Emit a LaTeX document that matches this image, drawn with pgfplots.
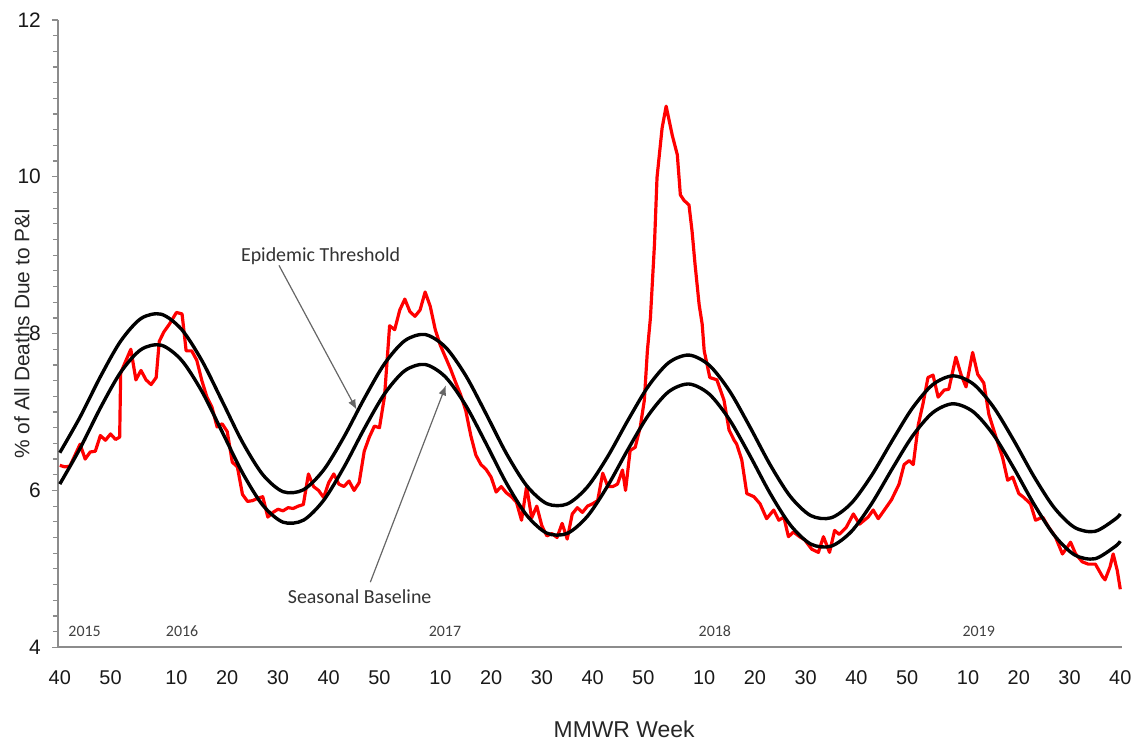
\documentclass[border=0pt]{standalone}
\usepackage{fontspec}
\setmainfont{Liberation Sans}
\newfontfamily\calibri{Carlito}
\usepackage{pgfplots}
\pgfplotsset{compat=1.18}
\usepackage{pgfplotstable}
\usetikzlibrary{arrows.meta}

% weekly P&I percentage, t = weeks since MMWR week 40 of 2015
\pgfplotstableread{
t v
0 6.32
1 6.30
2 6.31
3 6.45
4 6.59
5 6.40
6 6.49
7 6.50
8 6.70
9 6.64
10 6.72
11 6.65
11.8 6.68
12 7.50
13 7.65
14 7.80
15 7.41
16 7.53
17 7.41
18 7.35
19 7.44
19.6 7.90
20.5 8.02
21.6 8.12
23 8.27
24.1 8.25
24.9 7.78
26 7.78
27 7.66
28 7.40
29 7.19
30 7.06
31 6.81
32 6.85
33 6.75
34 6.36
35 6.30
36 5.95
37 5.86
38 5.87
39 5.90
40 5.92
41 5.66
42 5.72
43 5.76
44 5.74
45 5.78
46 5.77
47 5.80
48 5.82
49 6.21
50 6.05
51 6.00
52 5.91
53 6.10
54 6.21
55 6.08
56 6.05
57 6.12
58 6.00
59 6.10
60 6.50
61 6.68
62 6.82
63 6.80
64 7.20
65 8.10
66 8.05
67 8.30
68 8.44
69 8.28
70 8.22
71 8.30
72 8.53
73 8.35
74 8.05
75 7.85
76 7.70
77 7.55
78 7.38
79 7.22
80 7.02
81 6.70
82 6.45
83 6.33
84 6.27
85 6.17
86 5.98
87 6.05
88 5.97
89 5.92
90 5.85
91 5.62
92 6.05
93 5.65
94 5.80
95 5.55
96 5.42
97 5.45
98 5.40
99 5.58
100 5.38
101 5.70
102 5.78
103 5.72
104 5.80
105 5.83
106 5.87
107 6.22
108 6.05
109 6.05
109.9 6.08
110.9 6.26
111.5 6.00
112.4 6.51
113.4 6.55
114.4 6.81
115.2 7.15
115.8 7.78
116.4 8.20
117.2 9.14
117.7 9.99
118.7 10.62
119.5 10.90
120.7 10.53
121.7 10.28
122.3 9.77
123.0 9.70
124.0 9.64
124.6 9.31
125.2 8.88
126.0 8.37
126.6 8.12
127.0 7.78
128.1 7.44
129.5 7.41
130.9 7.15
131.9 6.77
132.9 6.64
133.4 6.59
134.4 6.39
135.4 5.96
136.8 5.92
138.0 5.83
139.3 5.64
140.7 5.75
141.7 5.62
142.7 5.66
143.6 5.41
144.6 5.47
145.8 5.41
146.8 5.37
148.2 5.25
149.5 5.21
150.5 5.41
151.7 5.21
152.7 5.49
153.6 5.44
155.0 5.53
156.4 5.70
157.6 5.57
159.3 5.66
160.3 5.75
161.3 5.64
162.5 5.75
163.9 5.88
165.4 6.08
166.4 6.33
167.4 6.38
168.2 6.33
169.2 6.84
170.1 7.10
171.1 7.44
172.1 7.47
173.1 7.19
174.3 7.28
175.2 7.29
176.6 7.70
177.6 7.48
178.6 7.32
179.9 7.76
180.9 7.48
182.1 7.37
183.1 6.97
184.5 6.68
185.8 6.42
186.8 6.13
187.8 6.17
189.0 5.96
190.0 5.91
191.3 5.83
192.3 5.62
193.7 5.66
194.9 5.53
196.2 5.41
197.6 5.19
198.6 5.28
199.2 5.34
200.2 5.19
201.5 5.09
202.7 5.06
204.1 5.06
205.5 4.90
206.0 4.86
207.0 5.03
207.6 5.19
208.4 4.98
209.0 4.74
}\piData

% seasonal baseline (b) and epidemic threshold (e)
\pgfplotstableread{
t b e
0 6.081 6.481
4 6.537 6.936
8 7.052 7.450
12 7.507 7.904
16 7.796 8.192
20 7.852 8.247
24 7.660 8.054
28 7.263 7.656
32 6.747 7.139
36 6.225 6.616
40 5.812 6.202
44 5.595 5.984
48 5.620 6.008
52 5.874 6.261
56 6.296 6.682
60 6.787 7.172
64 7.232 7.616
68 7.527 7.910
72 7.606 7.988
76 7.447 7.828
80 7.085 7.465
84 6.599 6.978
88 6.095 6.473
92 5.685 6.062
96 5.455 5.831
100 5.452 5.827
104 5.672 6.046
108 6.061 6.434
112 6.526 6.898
116 6.959 7.330
120 7.259 7.629
124 7.357 7.726
128 7.228 7.596
132 6.900 7.267
136 6.445 6.811
140 5.962 6.327
144 5.557 5.921
148 5.316 5.679
152 5.289 5.651
156 5.476 5.837
160 5.832 6.192
164 6.270 6.629
168 6.689 7.047
172 6.990 7.347
176 7.105 7.461
180 7.004 7.359
184 6.710 7.064
188 6.286 6.639
192 5.824 6.176
196 5.427 5.778
200 5.178 5.528
204 5.129 5.478
208 5.286 5.634
209 5.353 5.701
}\curveData

\begin{document}
\begin{tikzpicture}
\begin{axis}[
  scale only axis,
  width=534.5pt, height=315pt,
  xmin=-0.4, xmax=209.4,
  ymin=4, ymax=12,
  axis x line*=bottom,
  axis y line*=left,
  axis line style={draw=black!45, line width=0.8pt},
  xtick={0,10,23,33,43,53,63,75,85,95,105,115,127,137,147,157,167,179,189,199,209},
  xticklabels={40,50,10,20,30,40,50,10,20,30,40,50,10,20,30,40,50,10,20,30,40},
  xtick style={draw=none},
  ytick={4,6,8,10,12},
  minor y tick num=9,
  tick align=outside,
  major tick length=3pt,
  minor tick length=2.5pt,
  ytick style={draw=black!45, line width=0.6pt},
  minor tick style={draw=black!45, line width=0.6pt},
  /pgf/number format/assume math mode=true,
  xticklabel style={font=\fontsize{10}{12}\selectfont, text=black!90, yshift=-5pt},
  yticklabel style={font=\fontsize{10.5}{12}\selectfont, text=black!90, xshift=-2pt},
  xlabel={MMWR Week},
  ylabel={\% of All Deaths Due to P\&I},
  every axis x label/.style={at={(axis description cs:0.532,-0.130)}, anchor=center,
    font=\fontsize{11.5}{13}\selectfont, text=black!85},
  every axis y label/.style={at={(axis description cs:-0.0337,0.5)}, rotate=90, anchor=center,
    font=\fontsize{10.5}{12}\selectfont, text=black!85},
]
\addplot[draw=red, line width=1.6pt, line join=round] table[x=t, y=v] {\piData};
\addplot[draw=black, line width=1.7pt, smooth] table[x=t, y=b] {\curveData};
\addplot[draw=black, line width=1.7pt, smooth] table[x=t, y=e] {\curveData};

\node[font=\calibri\fontsize{10}{11}\selectfont, text=black!80] at (axis cs:51.4,8.99) {Epidemic Threshold};
\draw[draw=black!60, line width=0.6pt, -{Latex[length=5pt,width=4pt]}] (axis cs:43.2,8.87) -- (axis cs:58.5,7.03);
\node[font=\calibri\fontsize{10}{11}\selectfont, text=black!80] at (axis cs:59.1,4.64) {Seasonal Baseline};
\draw[draw=black!60, line width=0.6pt, -{Latex[length=5pt,width=4pt]}] (axis cs:61.2,4.83) -- (axis cs:76.1,7.34);

\node[font=\calibri\fontsize{8}{9}\selectfont, text=black!75] at (axis cs:4.9,4.2) {2015};
\node[font=\calibri\fontsize{8}{9}\selectfont, text=black!75] at (axis cs:24.1,4.2) {2016};
\node[font=\calibri\fontsize{8}{9}\selectfont, text=black!75] at (axis cs:75.9,4.2) {2017};
\node[font=\calibri\fontsize{8}{9}\selectfont, text=black!75] at (axis cs:129.1,4.2) {2018};
\node[font=\calibri\fontsize{8}{9}\selectfont, text=black!75] at (axis cs:181.1,4.2) {2019};

\coordinate (ll) at (rel axis cs:0,0);
\coordinate (ur) at (rel axis cs:1,1);
\end{axis}
\path ([xshift=-29pt,yshift=-45pt]ll) rectangle ([xshift=5.5pt,yshift=10pt]ur);
\end{tikzpicture}
\end{document}
